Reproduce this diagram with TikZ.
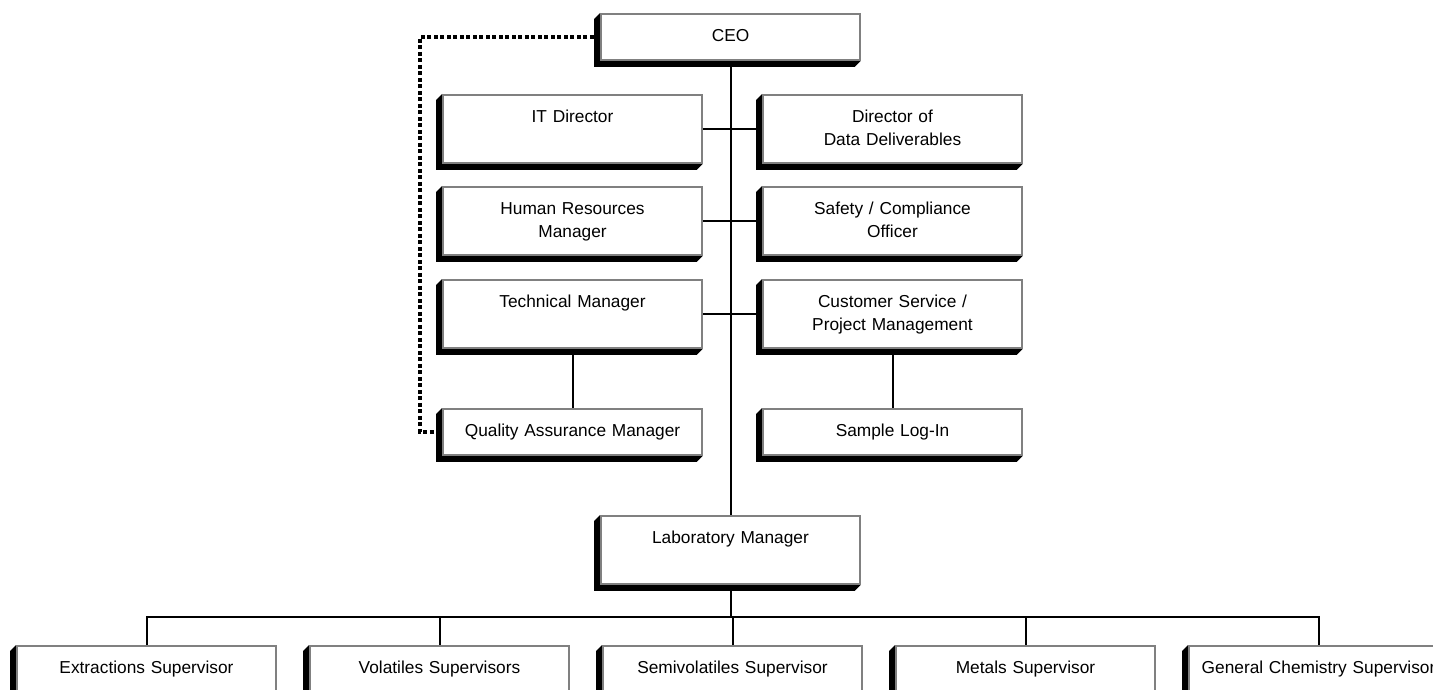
\documentclass[tikz,border=0pt]{standalone}
\usepackage{fontspec}
\setmainfont{Liberation Sans}
\usetikzlibrary{backgrounds}
\begin{document}
\begin{tikzpicture}[x=1pt,y=-1pt,
    orgbox/.style={draw=black!50,line width=1.8pt,fill=white,anchor=north,align=center,
      text width=259pt,inner xsep=0pt,inner ysep=0pt,text height=28pt,text depth=40pt,
      font=\fontsize{17.3pt}{23pt}\selectfont},
    lowbox/.style={orgbox,text depth=18pt},
    link/.style={line width=2pt}]
  \useasboundingbox (0,0) rectangle (1433,690);
  \node[lowbox] (ceo) at (730.5,13) {CEO};
  \node[orgbox] (itdir) at (572.5,94) {IT Director};
  \node[orgbox] (datadir) at (892.5,94) {Director of\\Data Deliverables};
  \node[orgbox] (hrmgr) at (572.5,186) {Human Resources\\Manager};
  \node[orgbox] (safety) at (892.5,186) {Safety / Compliance\\Officer};
  \node[orgbox] (techmgr) at (572.5,279) {Technical Manager};
  \node[orgbox] (custsvc) at (892.5,279) {Customer Service /\\Project Management};
  \node[lowbox] (qamgr) at (572.5,408) {Quality Assurance Manager};
  \node[lowbox] (samplelog) at (892.5,408) {Sample Log-In};
  \node[orgbox] (labmgr) at (730.5,515) {Laboratory Manager};
  \node[orgbox] (extract) at (146.5,645) {Extractions Supervisor};
  \node[orgbox] (volatile) at (439.5,645) {Volatiles Supervisors};
  \node[orgbox] (semivol) at (732.5,645) {Semivolatiles Supervisor};
  \node[orgbox] (metals) at (1025.5,645) {Metals Supervisor};
  \node[orgbox] (genchem) at (1318.5,645) {General Chemistry Supervisor};
  \coordinate (qaloop) at (420,0);
  \coordinate (bus) at (0,617);
  \begin{scope}[on background layer]
    \draw[link] (ceo.south) -- (labmgr.north);
    \draw[link] (itdir.east) -- (datadir.west);
    \draw[link] (hrmgr.east) -- (safety.west);
    \draw[link] (techmgr.east) -- (custsvc.west);
    \draw[link] (techmgr.south) -- (qamgr.north);
    \draw[link] (custsvc.south) -- (samplelog.north);
    \draw[link,line width=4pt,dash pattern=on 4pt off 2.5pt] (ceo.west) -| (qaloop |- qamgr.west) -- (qamgr.west);
    \draw[link] (labmgr.south) -- (labmgr.south |- bus);
    \draw[link] (extract.north) |- (genchem.north |- bus) -- (genchem.north);
    \foreach \b in {volatile,semivol,metals}
      \draw[link] (\b.north) -- (\b.north |- bus);
    \foreach \b in {ceo,itdir,datadir,hrmgr,safety,techmgr,custsvc,qamgr,samplelog,labmgr,extract,volatile,semivol,metals,genchem}
      \fill (\b.north west) -- ++(-6,6) -- ([shift={(-6,6)}]\b.south west)
        -- ([shift={(-6,6)}]\b.south east) -- (\b.south east) -- cycle;
  \end{scope}
\end{tikzpicture}
\end{document}
